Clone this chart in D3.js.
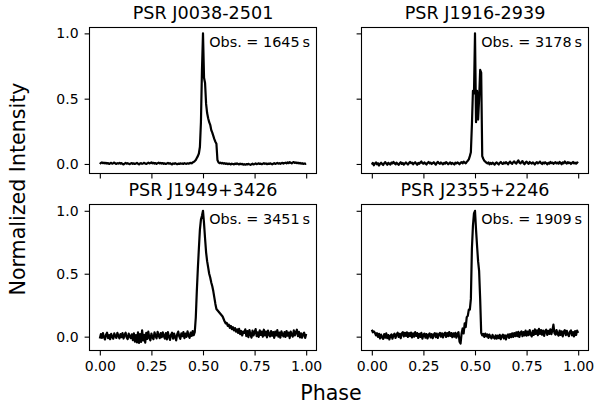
<!DOCTYPE html>
<html lang="en">
  <head>
    <meta charset="utf-8">
    <title>Pulse profiles</title>
    <script src="https://cdn.jsdelivr.net/npm/d3@7"></script>
    <style>
      body { margin: 0; background: #fff; }
      svg text { font-family: "DejaVu Sans", sans-serif; fill: #000; }
    </style>
  </head>
  <body>
    <script>

    // four pulsars, profiles sampled on 201 phase bins (0 .. 1, step 0.005)
    var pulsars = ["PSR J0038-2501", "PSR J1916-2939", "PSR J1949+3426", "PSR J2355+2246"],
        obsTimes = [1645, 3178, 3451, 1909],
        xTicks = [0, 0.25, 0.5, 0.75, 1],
        yTicks = [0, 0.5, 1];

    var j0038 = [
      0.000, 0.008, 0.012, 0.006, 0.010, 0.004, 0.009, 0.003, 0.007, 0.000, 0.005, 0.009, 0.002, 0.006, 0.011, 0.004, 0.000, 0.006, 0.003, 0.008,
      0.002, 0.007, 0.000, -0.004, 0.003, 0.008, 0.002, 0.006, 0.001, -0.002, 0.004, 0.007, 0.001, 0.005, 0.000, 0.003, 0.008, 0.002, -0.003, 0.004,
      0.006, 0.001, 0.004, 0.009, 0.003, 0.000, 0.005, 0.010, 0.004, 0.008, 0.012, 0.005, 0.009, 0.003, 0.007, 0.001, 0.006, 0.010, 0.004, 0.008,
      0.003, 0.007, 0.001, 0.005, 0.000, 0.004, 0.008, 0.002, 0.006, 0.000, -0.003, 0.004, 0.001, 0.006, 0.002, -0.002, 0.003, 0.000, 0.005, 0.002,
      0.004, 0.000, 0.006, 0.003, 0.001, 0.005, 0.002, 0.006, 0.008, 0.005, 0.012, 0.015, 0.022, 0.030, 0.045, 0.060, 0.080, 0.130, 0.320, 0.720,
      1.000, 0.660, 0.620, 0.460, 0.390, 0.350, 0.320, 0.300, 0.260, 0.240, 0.215, 0.190, 0.170, 0.155, 0.030, 0.012, 0.006, 0.010, 0.004, 0.008,
      0.002, 0.006, 0.000, 0.004, -0.002, 0.003, 0.001, -0.004, 0.002, 0.000, -0.003, 0.003, -0.001, 0.004, 0.000, -0.004, 0.002, -0.002, 0.001, -0.005,
      -0.002, -0.006, -0.001, -0.004, 0.001, -0.003, -0.007, -0.002, 0.002, -0.003, 0.000, 0.004, -0.002, 0.001, 0.005, 0.000, 0.003, -0.002, 0.002, 0.006,
      0.001, 0.004, -0.002, 0.003, 0.000, 0.005, 0.001, -0.003, 0.002, 0.006, 0.000, 0.004, 0.008, 0.002, 0.006, 0.001, 0.005, 0.009, 0.003, 0.007,
      0.010, 0.005, 0.012, 0.007, 0.014, 0.009, 0.004, 0.011, 0.015, 0.008, 0.012, 0.006, 0.010, 0.004, 0.008, 0.002, 0.006, 0.000, 0.004, 0.001,
      0.003
    ];

    var j1916 = [
      -0.005, 0.008, -0.010, 0.004, 0.012, -0.002, 0.006, -0.012, 0.002, 0.010, 0.000, -0.008, 0.006, 0.014, 0.003, -0.006, 0.009, 0.001, -0.004, 0.011,
      0.004, 0.015, 0.006, -0.003, 0.010, 0.002, -0.007, 0.005, 0.013, 0.000, 0.008, -0.005, 0.003, 0.012, 0.004, -0.004, 0.007, 0.016, 0.006, 0.010,
      -0.002, 0.006, 0.013, 0.003, -0.006, 0.008, 0.001, 0.011, 0.019, 0.007, 0.002, 0.012, 0.004, -0.004, 0.009, 0.015, 0.005, 0.010, 0.000, 0.007,
      0.013, 0.003, -0.005, 0.008, 0.016, 0.006, 0.001, 0.011, 0.004, -0.003, 0.009, 0.002, 0.014, 0.007, -0.002, 0.005, 0.012, 0.000, 0.008, 0.003,
      -0.004, 0.010, 0.004, 0.012, 0.006, -0.002, 0.009, 0.014, 0.005, 0.018, 0.010, 0.004, 0.016, 0.025, 0.035, 0.060, 0.090, 0.300, 0.560, 0.540,
      1.000, 0.320, 0.560, 0.340, 0.500, 0.720, 0.700, 0.060, 0.040, 0.025, 0.018, 0.010, 0.004, 0.012, -0.002, 0.008, 0.000, 0.010, 0.003, -0.005,
      0.006, 0.012, 0.002, -0.004, 0.009, 0.015, 0.005, 0.000, 0.011, 0.004, 0.014, 0.007, -0.003, 0.010, 0.018, 0.006, 0.001, 0.013, 0.020, 0.008,
      0.003, 0.016, 0.028, 0.010, 0.004, 0.014, 0.022, 0.006, -0.002, 0.012, 0.018, 0.007, 0.001, 0.015, 0.009, 0.003, 0.012, 0.005, -0.004, 0.008,
      0.014, 0.004, 0.010, 0.018, 0.006, 0.000, 0.011, 0.003, 0.013, 0.007, -0.003, 0.009, 0.002, 0.015, 0.006, 0.011, 0.001, 0.008, 0.014, 0.004,
      0.010, 0.002, 0.016, 0.007, -0.002, 0.012, 0.005, 0.019, 0.009, 0.003, 0.014, 0.006, 0.011, 0.000, 0.008, 0.015, 0.004, 0.010, 0.002, 0.012,
      0.006
    ];

    var j1949 = [
      -0.015, 0.020, -0.010, 0.028, -0.004, -0.022, 0.015, 0.032, -0.012, 0.012, -0.020, 0.022, 0.000, -0.016, 0.026, 0.004, -0.010, 0.030, 0.008, -0.014,
      0.020, -0.004, 0.028, -0.015, 0.014, 0.032, -0.006, -0.020, 0.024, 0.002, -0.012, 0.018, -0.028, 0.026, -0.040, 0.012, -0.045, 0.035, -0.050, 0.020,
      -0.042, 0.050, -0.030, 0.015, -0.048, 0.030, -0.018, 0.040, -0.008, -0.030, 0.024, -0.004, -0.020, 0.034, 0.004, -0.014, 0.038, 0.010, -0.012, 0.028,
      -0.004, 0.034, 0.006, -0.016, 0.028, -0.022, 0.036, 0.000, -0.026, 0.016, 0.032, -0.016, 0.024, -0.004, -0.030, 0.020, 0.040, 0.002, -0.018, 0.026,
      0.004, 0.036, -0.012, 0.024, -0.002, 0.042, 0.008, -0.010, 0.032, 0.006, 0.045, 0.012, 0.035, 0.150, 0.360, 0.540, 0.700, 0.850, 0.930, 0.960,
      1.000, 0.900, 0.780, 0.670, 0.600, 0.550, 0.500, 0.470, 0.430, 0.400, 0.360, 0.310, 0.260, 0.220, 0.210, 0.200, 0.190, 0.180, 0.170, 0.160,
      0.140, 0.120, 0.105, 0.110, 0.085, 0.095, 0.070, 0.085, 0.060, 0.075, 0.050, 0.068, 0.040, 0.058, 0.030, 0.062, 0.020, 0.045, 0.010, 0.040,
      0.030, 0.058, 0.005, 0.045, -0.004, 0.052, 0.018, -0.008, 0.048, 0.010, 0.036, 0.060, 0.004, 0.034, -0.002, 0.050, 0.014, 0.040, 0.000, 0.055,
      0.010, 0.040, -0.006, 0.048, 0.018, 0.002, 0.045, 0.008, 0.036, -0.010, 0.040, 0.010, 0.052, 0.000, 0.032, -0.008, 0.042, 0.016, 0.002, 0.036,
      -0.002, 0.045, 0.008, 0.032, -0.012, 0.040, 0.014, 0.000, 0.050, 0.010, 0.034, 0.055, 0.004, 0.038, -0.006, 0.026, -0.008, 0.020, 0.032, -0.010,
      0.022
    ];

    var j2355 = [
      0.055, 0.035, 0.042, 0.030, 0.010, 0.028, -0.002, 0.022, -0.014, 0.016, -0.004, -0.018, 0.020, -0.008, 0.026, -0.012, 0.012, -0.022, 0.008, 0.018,
      -0.016, 0.012, 0.024, -0.010, 0.016, 0.032, -0.002, 0.022, -0.012, 0.026, 0.036, 0.002, 0.030, 0.006, 0.034, -0.002, 0.028, 0.004, 0.032, -0.006,
      0.026, 0.000, 0.036, 0.006, 0.028, -0.010, 0.022, -0.002, 0.030, -0.016, 0.016, 0.024, -0.008, 0.020, -0.014, 0.014, 0.026, -0.006, 0.020, -0.012,
      0.016, 0.028, -0.004, 0.024, -0.010, 0.020, 0.030, 0.000, 0.026, -0.006, 0.022, 0.032, -0.002, 0.028, 0.004, 0.036, 0.006, 0.028, -0.004, 0.026,
      0.000, 0.030, -0.008, 0.022, 0.036, -0.040, -0.055, 0.025, 0.065, 0.025, 0.105, 0.075, 0.155, 0.165, 0.215, 0.215, 0.300, 0.700, 0.880, 0.980,
      1.000, 0.850, 0.720, 0.600, 0.520, 0.300, 0.030, 0.010, 0.022, -0.002, 0.024, 0.002, 0.018, -0.010, 0.016, -0.002, -0.014, 0.014, -0.006, -0.016,
      0.010, -0.016, 0.008, -0.012, 0.014, -0.020, 0.004, 0.016, -0.014, 0.010, -0.022, 0.008, 0.018, -0.010, 0.020, -0.004, 0.026, -0.002, 0.028, 0.004,
      0.034, 0.004, 0.038, -0.002, 0.030, 0.042, 0.004, 0.036, 0.010, 0.048, 0.008, 0.040, 0.012, 0.052, 0.018, 0.002, 0.046, 0.014, 0.058, 0.022,
      0.050, 0.012, 0.062, 0.022, 0.052, 0.016, 0.048, 0.006, 0.044, 0.056, 0.014, 0.046, 0.022, 0.058, 0.020, 0.050, 0.095, 0.028, 0.016, 0.052,
      0.022, 0.008, 0.048, 0.014, 0.042, 0.002, 0.038, 0.052, 0.012, 0.046, 0.018, 0.004, 0.040, 0.050, 0.010, 0.036, 0.002, 0.044, 0.014, 0.048,
      0.030
    ];

    var profiles = [j0038, j1916, j1949, j2355];

    var phase = j0038.map(function(d, i) { return i / (j0038.length - 1); });

    var w = 595,
        h = 406,
        colX = [89.5, 361.5],
        rowY = [27.5, 204.5],
        pw = 227,
        ph = 146,
        rowDomain = [[-0.073, 1.045], [-0.11, 1.05]],
        tick = 4.9;

    var svg = d3.select("body").append("svg")
        .attr("width", w)
        .attr("height", h);

    var x = d3.scaleLinear().domain([-0.05, 1.05]).range([0, pw]);

    profiles.forEach(function(values, k) {
      var col = k % 2,
          row = Math.floor(k / 2),
          y = d3.scaleLinear().domain(rowDomain[row]).range([ph, 0]);

      var g = svg.append("g")
          .attr("transform", "translate(" + colX[col] + "," + rowY[row] + ")");

      var line = d3.line()
          .x(function(d, i) { return x(phase[i]); })
          .y(function(d) { return y(d); });

      g.append("path")
          .datum(values)
          .attr("d", line)
          .attr("fill", "none")
          .attr("stroke", "#000")
          .attr("stroke-width", 2.2)
          .attr("stroke-linejoin", "round");

      var xAxis = d3.axisBottom(x)
          .tickValues(xTicks)
          .tickSize(tick)
          .tickSizeOuter(0)
          .tickPadding(6)
          .tickFormat(row == 1 ? d3.format(".2f") : function() { return ""; });

      var yAxis = d3.axisLeft(y)
          .tickValues(yTicks)
          .tickSize(tick)
          .tickSizeOuter(0)
          .tickPadding(6)
          .tickFormat(col == 0 ? d3.format(".1f") : function() { return ""; });

      g.append("g")
          .attr("transform", "translate(0," + ph + ")")
          .call(xAxis);

      g.append("g")
          .call(yAxis);

      g.selectAll(".domain").remove();
      g.selectAll(".tick line").attr("stroke", "#000").attr("stroke-width", 1.1);
      g.selectAll(".tick text")
          .attr("font-size", "14px")
          .attr("font-family", "DejaVu Sans, sans-serif");

      g.append("rect")
          .attr("width", pw)
          .attr("height", ph)
          .attr("fill", "none")
          .attr("stroke", "#000")
          .attr("stroke-width", 1.1);

      g.append("text")
          .attr("x", pw / 2)
          .attr("y", -9)
          .attr("text-anchor", "middle")
          .attr("font-size", "17.6px")
          .text(pulsars[k]);

      g.append("text")
          .attr("x", pw - 6.5)
          .attr("y", 19)
          .attr("text-anchor", "end")
          .attr("font-size", "14.4px")
          .text("Obs. = " + obsTimes[k] + "\u2009s");
    });

    svg.append("text")
        .attr("x", 331)
        .attr("y", 400)
        .attr("text-anchor", "middle")
        .attr("font-size", "20.6px")
        .text("Phase");

    svg.append("text")
        .attr("transform", "translate(25,189)rotate(-90)")
        .attr("text-anchor", "middle")
        .attr("font-size", "20.6px")
        .text("Normalized Intensity");

    </script>
  </body>
</html>
